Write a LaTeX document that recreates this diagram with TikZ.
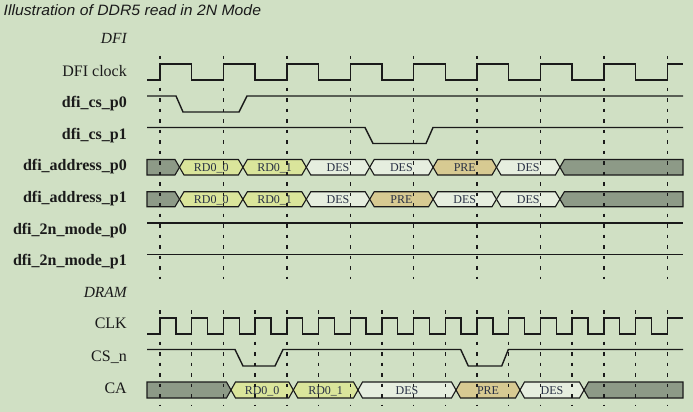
\documentclass[tikz,border=0pt]{standalone}
\usepackage{fontspec}
\setmainfont{Liberation Serif}
\newfontfamily\titlefont{Liberation Sans}
\definecolor{bg}{HTML}{D0E0C4}
\definecolor{ink}{HTML}{1A1A1A}
\definecolor{busgray}{HTML}{8D9A87}
\definecolor{rdfill}{HTML}{DAE59B}
\definecolor{prefill}{HTML}{D7CA92}
\definecolor{desfill}{HTML}{E6EEDF}
\definecolor{lbltext}{HTML}{283044}
\tikzset{
  sig/.style={draw=ink, line width=1.4pt, line join=miter},
  busline/.style={draw=ink, line width=1.1pt, line join=miter},
  gridline/.style={draw=ink, line width=1.4pt, dash pattern=on 3.5pt off 7pt},
  siglbl/.style={anchor=base east, font=\fontsize{16}{18}\selectfont, text=ink, inner sep=0pt},
  siglblb/.style={siglbl, font=\fontsize{16}{18}\selectfont\bfseries},
  seclbl/.style={siglbl, font=\fontsize{15.5}{18}\selectfont\itshape},
  buslbl/.style={anchor=base, font=\fontsize{12}{14}\selectfont, text=lbltext, inner sep=0pt},
}
% #1 name, #2 x1, #3 x2, #4 top, #5 bottom, #6 fill, #7 label
\newcommand\busmid[7]{%
  \filldraw[busline, fill=#6] (#2,{(#4+#5)/2}) -- ({#2+4.5},#4) -- ({#3-4.5},#4) -- (#3,{(#4+#5)/2}) -- ({#3-4.5},#5) -- ({#2+4.5},#5) -- cycle;
  \node[buslbl] (#1) at ({(#2+#3)/2},{(#4+#5)/2+4.5}) {#7};
}
% #1 x2, #2 top, #3 bottom
\newcommand\busstart[3]{%
  \filldraw[busline, fill=busgray] (147,#2) -- ({#1-4.5},#2) -- (#1,{(#2+#3)/2}) -- ({#1-4.5},#3) -- (147,#3) -- cycle;
}
\newcommand\busend[3]{%
  \filldraw[busline, fill=busgray] (683,#2) -- ({#1+4.5},#2) -- (#1,{(#2+#3)/2}) -- ({#1+4.5},#3) -- (683,#3) -- cycle;
}
\begin{document}
\begin{tikzpicture}[x=1pt,y=-1pt]
\useasboundingbox[fill=bg] (0,0) rectangle (693,412);
% title
\node[anchor=base west, inner sep=0pt, text=ink, font=\titlefont\itshape\fontsize{15}{17}\selectfont] (title) at (3.5,15.5) {\scalebox{1.05}[1]{Illustration of DDR5 read in 2N Mode}};
% labels
\node[seclbl] (ldfi) at (127,43.5) {DFI};
\node[siglbl] (lclk) at (127,76) {DFI clock};
\node[siglblb] (lcs0) at (127,107) {dfi\_cs\_p0};
\node[siglblb] (lcs1) at (127,139) {dfi\_cs\_p1};
\node[siglblb] (lad0) at (127,170.5) {dfi\_address\_p0};
\node[siglblb] (lad1) at (127,202.5) {dfi\_address\_p1};
\node[siglblb] (l2n0) at (127,234) {dfi\_2n\_mode\_p0};
\node[siglblb] (l2n1) at (127,265.5) {dfi\_2n\_mode\_p1};
\node[seclbl] (ldram) at (127,297) {DRAM};
\node[siglbl] (lck) at (127,328.5) {CLK};
\node[siglbl] (lcsn) at (127,361) {CS\_n};
\node[siglbl] (lca) at (127,393) {CA};
% DFI clock
\draw[sig] (147,80) foreach \k in {0,...,7}{ -- ({160+63.4*\k},80) -- ({160+63.4*\k},64) -- ({191.7+63.4*\k},64) -- ({191.7+63.4*\k},80)} -- (667.2,80) -- (667.2,64) -- (683,64);
% cs
\draw[sig] (147,96) -- (176,96) -- (183,112) -- (239,112) -- (247,96) -- (683,96);
\draw[sig] (147,127.5) -- (365,127.5) -- (373,143.5) -- (426,143.5) -- (433,127.5) -- (683,127.5);
% address p0
\busstart{179.5}{159.5}{175}
\busmid{a0a}{179.5}{242.9}{159.5}{175}{rdfill}{RD0\_0}
\busmid{a0b}{242.9}{306.3}{159.5}{175}{rdfill}{RD0\_1}
\busmid{a0c}{306.3}{369.7}{159.5}{175}{desfill}{DES}
\busmid{a0d}{369.7}{433.1}{159.5}{175}{desfill}{DES}
\busmid{a0e}{433.1}{496.5}{159.5}{175}{prefill}{PRE}
\busmid{a0f}{496.5}{559.9}{159.5}{175}{desfill}{DES}
\busend{559.9}{159.5}{175}
% address p1
\busstart{179.5}{191.7}{206.7}
\busmid{a1a}{179.5}{242.9}{191.7}{206.7}{rdfill}{RD0\_0}
\busmid{a1b}{242.9}{306.3}{191.7}{206.7}{rdfill}{RD0\_1}
\busmid{a1c}{306.3}{369.7}{191.7}{206.7}{desfill}{DES}
\busmid{a1d}{369.7}{433.1}{191.7}{206.7}{prefill}{PRE}
\busmid{a1e}{433.1}{496.5}{191.7}{206.7}{desfill}{DES}
\busmid{a1f}{496.5}{559.9}{191.7}{206.7}{desfill}{DES}
\busend{559.9}{191.7}{206.7}
% 2n mode
\draw[sig] (147,223) -- (683,223);
\draw[sig] (147,254.5) -- (683,254.5);
% DRAM clock
\draw[sig] (147,334) foreach \k in {0,...,15}{ -- ({160+31.7*\k},334) -- ({160+31.7*\k},318) -- ({175.85+31.7*\k},318) -- ({175.85+31.7*\k},334)} -- (667.2,334) -- (667.2,318) -- (683,318);
% CS_n
\draw[sig] (147,349.5) -- (235,349.5) -- (243,366) -- (275,366) -- (283,349.5) -- (460.7,349.5) -- (468.3,366) -- (501.7,366) -- (508.3,349.5) -- (683,349.5);
% CA
\busstart{231}{382}{398}
\busmid{c1}{231}{293.3}{382}{398}{rdfill}{RD0\_0}
\busmid{c2}{293.3}{358}{382}{398}{rdfill}{RD0\_1}
\busmid{c3}{358}{456}{382}{398}{desfill}{DES}
\busmid{c4}{456}{520}{382}{398}{prefill}{PRE}
\busmid{c5}{520}{584}{382}{398}{desfill}{DES}
\busend{584}{382}{398}
% grid
\foreach \k in {0,...,8} \draw[gridline] ({160+63.4*\k},56) -- ({160+63.4*\k},279);
\foreach \k in {0,...,16} \draw[gridline] ({160+31.7*\k},310) -- ({160+31.7*\k},406);
\end{tikzpicture}
\end{document}
